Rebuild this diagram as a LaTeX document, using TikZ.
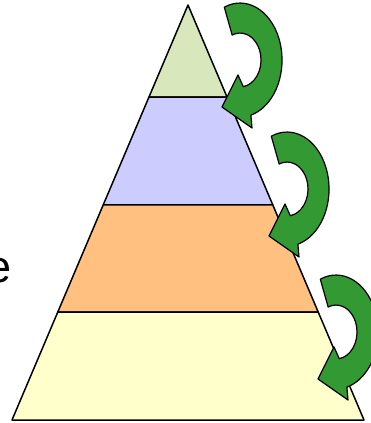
\documentclass[tikz,border=0pt]{standalone}
\usepackage{fontspec}
\setmainfont{Liberation Sans}
\usetikzlibrary{calc}

\definecolor{tiergreen}{HTML}{D8E8BC}
\definecolor{tierlilac}{HTML}{CCCCFF}
\definecolor{tierorange}{HTML}{FFC080}
\definecolor{tieryellow}{HTML}{FFFFCC}
\definecolor{turngreen}{HTML}{339933}

\tikzset{
    tier/.style={draw=black, line width=1.5pt, line join=round},
    turnline/.style={fill=turngreen, draw=black, line width=1.2pt, line join=round},
    % curved arrow, drawn round its own centre
    turn/.pic={
        \filldraw[turnline] (-15.7,-52.8)
            arc[start angle=-112, end angle=75, x radius=42, y radius=57]
            -- (12,68) -- (-18,47) -- (-2,15) -- (3.3,26.7)
            arc[start angle=81, end angle=-112, x radius=21, y radius=27]
            -- cycle;
    }
}

\begin{document}
\begin{tikzpicture}[x=1pt, y=-1pt]
    \useasboundingbox (0,0) rectangle (371,423);

    \coordinate (apex) at (188,5);
    \coordinate (BL) at (12,420);
    \coordinate (BR) at (364,420);

    % level lines on the two sides
    \coordinate (L1) at ($(apex)!0.2217!(BL)$);
    \coordinate (R1) at ($(apex)!0.2217!(BR)$);
    \coordinate (L2) at ($(apex)!0.4819!(BL)$);
    \coordinate (R2) at ($(apex)!0.4819!(BR)$);
    \coordinate (L3) at ($(apex)!0.7398!(BL)$);
    \coordinate (R3) at ($(apex)!0.7398!(BR)$);

    % the four tiers, top to bottom
    \filldraw[tier, fill=tiergreen] (apex) -- (R1) -- (L1) -- cycle;
    \filldraw[tier, fill=tierlilac] (L1) -- (R1) -- (R2) -- (L2) -- cycle;
    \filldraw[tier, fill=tierorange] (L2) -- (R2) -- (R3) -- (L3) -- cycle;
    \filldraw[tier, fill=tieryellow] (L3) -- (R3) -- (BR) -- (BL) -- cycle;

    % arrows from each tier down to the next
    \pic at (240,60) {turn};
    \pic at (287,189) {turn};
    \pic at (336,332) {turn};

    % text cut by the left edge
    \node[anchor=base east, inner sep=0pt, font=\fontsize{45}{54}\selectfont] (cut) at (11.3,282.5) {e};
\end{tikzpicture}
\end{document}
